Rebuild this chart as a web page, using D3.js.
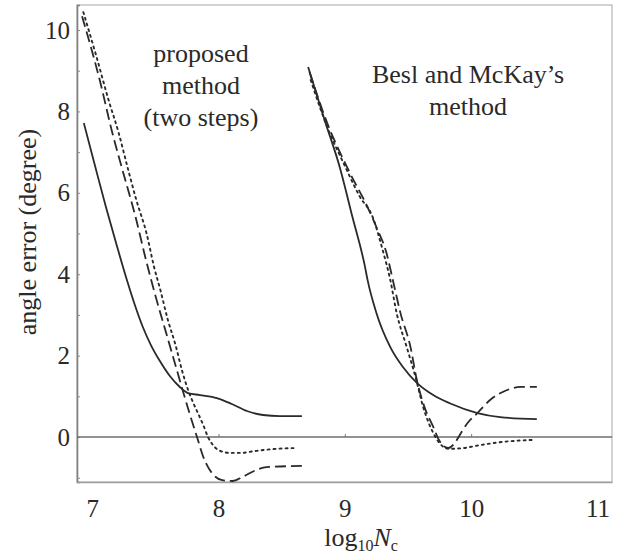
<!DOCTYPE html>
<html><head><meta charset="utf-8">
<script src="https://cdn.jsdelivr.net/npm/d3@7"></script>
<style>body{margin:0;background:#fff}svg{display:block}</style>
</head><body><svg id="c" width="618" height="556"></svg>
<script>
// ---- data ----
const xTicks = [7, 8, 9, 10, 11];
const yTicks = [0, 2, 4, 6, 8, 10];
const yMinorTicks = [-1, 0, 1, 2, 3, 4, 5, 6, 7, 8, 9, 10];
const zeroLineTicks = [8, 9, 10];

// proposed method (two steps)
const propSolidX  = [6.934, 7.021, 7.109, 7.196, 7.275, 7.338, 7.401, 7.465, 7.536, 7.615, 7.694, 7.758, 7.853, 7.987, 8.106, 8.225, 8.352, 8.486, 8.660];
const propSolidY  = [7.715, 6.683, 5.651, 4.693, 3.857, 3.243, 2.703, 2.260, 1.867, 1.499, 1.229, 1.081, 1.032, 0.958, 0.811, 0.639, 0.541, 0.516, 0.516];
const propDashedX = [6.92, 7.06, 7.16, 7.24, 7.34, 7.43, 7.51, 7.59, 7.67, 7.72, 7.77, 7.83, 7.88, 7.96, 8.03, 8.11, 8.19, 8.30, 8.38, 8.66];
const propDashedY = [10.34, 8.77, 7.47, 6.56, 5.45, 4.30, 3.37, 2.51, 1.65, 1.11, 0.59, 0.00, -0.49, -0.93, -1.06, -1.08, -0.98, -0.81, -0.74, -0.71];
const propDottedX = [6.93, 7.03, 7.13, 7.21, 7.28, 7.35, 7.43, 7.49, 7.54, 7.60, 7.66, 7.71, 7.76, 7.80, 7.84, 7.88, 7.92, 7.95, 8.00, 8.09, 8.17, 8.30, 8.46, 8.62];
const propDottedY = [10.44, 9.39, 8.28, 7.47, 6.63, 5.82, 5.01, 4.18, 3.61, 2.87, 2.26, 1.65, 1.15, 0.84, 0.57, 0.29, -0.02, -0.17, -0.32, -0.39, -0.39, -0.34, -0.29, -0.27];

// Besl and McKay's method
const beslSolidX  = [8.71, 8.84, 8.96, 9.06, 9.16, 9.18, 9.25, 9.36, 9.46, 9.57, 9.70, 9.83, 10.05, 10.23, 10.52];
const beslSolidY  = [9.09, 7.79, 6.63, 5.41, 4.18, 3.86, 3.05, 2.21, 1.72, 1.33, 1.03, 0.83, 0.59, 0.49, 0.44];
const beslDashedX = [8.72, 8.86, 9.04, 9.18, 9.25, 9.33, 9.38, 9.44, 9.52, 9.57, 9.63, 9.70, 9.75, 9.82, 9.87, 9.91, 9.97, 10.05, 10.15, 10.28, 10.39, 10.52];
const beslDashedY = [8.97, 7.72, 6.49, 5.65, 5.16, 4.52, 3.86, 3.05, 2.21, 1.40, 0.74, 0.25, -0.10, -0.27, -0.15, 0.05, 0.34, 0.59, 0.91, 1.15, 1.23, 1.23];
const beslDottedX = [8.73, 8.86, 8.99, 9.12, 9.22, 9.30, 9.36, 9.41, 9.49, 9.56, 9.62, 9.70, 9.75, 9.82, 9.94, 10.07, 10.25, 10.49];
const beslDottedY = [8.77, 7.62, 6.73, 5.90, 5.41, 4.59, 3.86, 3.05, 2.21, 1.47, 0.74, 0.10, -0.15, -0.29, -0.27, -0.20, -0.12, -0.07];

const xDomain = [6.88, 11.115];
const yDomain = [-1.105, 10.615];

// ---- layout ----
const W = 618, H = 556;
const m = {left: 77, top: 5, right: 6, bottom: 74};
const pw = W - m.left - m.right, ph = H - m.top - m.bottom;
const FONT = "'Liberation Serif', 'Times New Roman', Times, serif";
const INK = "#2a2a2a";

const svg = d3.select("#c");
svg.append("rect").attr("width", W).attr("height", H).attr("fill", "#fff");
const g = svg.append("g").attr("transform", `translate(${m.left},${m.top})`);

const x = d3.scaleLinear().domain(xDomain).range([0, pw]);
const y = d3.scaleLinear().domain(yDomain).range([ph, 0]);

// frame
g.append("rect").attr("width", pw).attr("height", ph)
  .attr("fill", "none").attr("stroke", "#a8a8a8").attr("stroke-width", 1);

// left axis line + minor ticks
const yMinor = g.append("g").call(d3.axisLeft(y).tickValues(yMinorTicks).tickSize(-3).tickFormat(""));
yMinor.select(".domain").attr("stroke", "#808080").attr("stroke-width", 1.6);
yMinor.selectAll(".tick line").attr("stroke", "#888");

// y tick labels
const yAx = g.append("g").call(d3.axisLeft(y).tickValues(yTicks).tickSize(0).tickPadding(7).tickFormat(d3.format("d")));
yAx.select(".domain").remove();
yAx.attr("font-family", null);
yAx.selectAll("text").style("font-family", FONT).style("font-size", "25px").attr("fill", INK);

// bottom axis line + labels
const xAx = g.append("g").attr("transform", `translate(0,${ph})`)
  .call(d3.axisBottom(x).tickValues(xTicks).tickSize(0).tickPadding(17).tickFormat(d3.format("d")));
xAx.select(".domain").attr("stroke", "#a0a0a0").attr("stroke-width", 1.3);
xAx.attr("font-family", null);
xAx.selectAll("text").style("font-family", FONT).style("font-size", "25px").attr("fill", INK);

// zero line with small ticks
const zAx = g.append("g").attr("transform", `translate(0,${y(0)})`)
  .call(d3.axisBottom(x).tickValues(zeroLineTicks).tickSize(-3).tickFormat(""));
zAx.select(".domain").remove();
zAx.selectAll(".tick line").attr("stroke", "#777");
g.append("line").attr("x1", 0).attr("x2", pw).attr("y1", y(0)).attr("y2", y(0))
  .attr("stroke", "#6e6e6e").attr("stroke-width", 1.5);

// curves
const styles = {solid: null, dashed: "11,5", dotted: "2,4"};
const series = [
  {xs: propSolidX,  ys: propSolidY,  s: "solid"},
  {xs: propDashedX, ys: propDashedY, s: "dashed"},
  {xs: propDottedX, ys: propDottedY, s: "dotted"},
  {xs: beslSolidX,  ys: beslSolidY,  s: "solid"},
  {xs: beslDashedX, ys: beslDashedY, s: "dashed"},
  {xs: beslDottedX, ys: beslDottedY, s: "dotted"}
];
const line = d3.line().x(d => x(d[0])).y(d => y(d[1])).curve(d3.curveMonotoneX);
series.forEach(sr => {
  const pts = sr.xs.map((v, i) => [v, sr.ys[i]]);
  g.append("path").datum(pts).attr("d", line)
    .attr("fill", "none").attr("stroke", INK)
    .attr("stroke-width", sr.s === "dotted" ? 1.9 : 1.8)
    .attr("stroke-dasharray", styles[sr.s])
    .attr("stroke-linecap", sr.s === "dotted" ? "round" : "butt");
});

// annotations
function block(lines, cx, y0, dy) {
  const t = svg.append("text").style("font-family", FONT).style("font-size", "26px")
    .attr("fill", INK).attr("text-anchor", "middle");
  lines.forEach((s, i) => t.append("tspan").attr("x", cx).attr("y", y0 + i * dy).text(s));
}
block(["proposed", "method", "(two steps)"], 201, 62, 32);
block(["Besl and McKay\u2019s", "method"], 468, 83, 32);

// axis titles
svg.append("text").attr("transform", "translate(36,232) rotate(-90)")
  .style("font-family", FONT).style("font-size", "26px").attr("fill", INK)
  .attr("text-anchor", "middle").text("angle error (degree)");

const xt = svg.append("text").attr("x", 361).attr("y", 546)
  .style("font-family", FONT).style("font-size", "26px").attr("fill", INK).attr("text-anchor", "middle");
xt.append("tspan").text("log");
xt.append("tspan").style("font-size", "16px").attr("dy", 5).text("10");
xt.append("tspan").style("font-style", "italic").attr("dy", -5).text("N");
xt.append("tspan").style("font-size", "16px").attr("dy", 5).text("c");
</script>
</body></html>
